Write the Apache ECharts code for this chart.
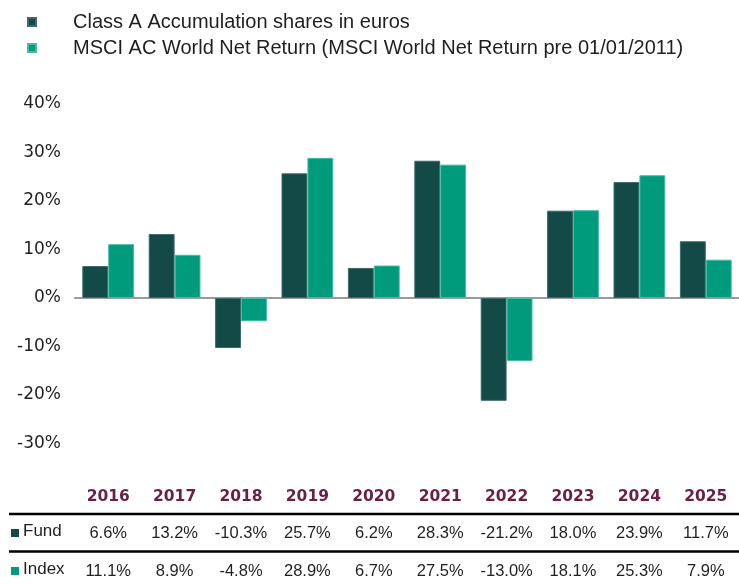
<!DOCTYPE html>
<html>
<head>
<meta charset="utf-8">
<script src="https://cdn.jsdelivr.net/npm/echarts@6/dist/echarts.min.js"></script>
<style>
  html, body { margin: 0; padding: 0; background: #fff; }
  #chart { width: 739px; height: 584px; }
</style>
</head>
<body>
<div id="chart"></div>
<script>
// Calendar-year returns, %
const years = ['2016', '2017', '2018', '2019', '2020', '2021', '2022', '2023', '2024', '2025'];
const fundReturns = [6.6, 13.2, -10.3, 25.7, 6.2, 28.3, -21.2, 18.0, 23.9, 11.7];
const indexReturns = [11.1, 8.9, -4.8, 28.9, 6.7, 27.5, -13.0, 18.1, 25.3, 7.9];
const fundName = 'Class A Accumulation shares in euros';
const indexName = 'MSCI AC World Net Return (MSCI World Net Return pre 01/01/2011)';
const rowLabels = ['Fund', 'Index'];

const FUND_COLOR = '#134a47';
const INDEX_COLOR = '#009b7d';
const YEAR_COLOR = '#6b1f45';
const TEXT_COLOR = '#1f1f1f';
const SANS = '"Liberation Sans", Arial, sans-serif';
const WIDE = '"DejaVu Sans", "Noto Sans", sans-serif';

const pct = v => v.toFixed(1) + '%';

// Extra bottom axes that form the table rows under the chart
function tableAxis(offset, formatter, style) {
  return {
    type: 'category',
    data: years,
    position: 'bottom',
    offset: offset,
    axisLine: { show: false },
    axisTick: { show: false },
    axisLabel: Object.assign({ margin: 0, formatter: formatter, interval: 0 }, style),
    z: 10
  };
}

const chart = echarts.init(document.getElementById('chart'));
chart.setOption({
  animation: false,
  backgroundColor: '#ffffff',
  legend: {
    orient: 'vertical',
    left: 22,
    top: 7,
    itemWidth: 8,
    itemHeight: 8,
    itemGap: 6,
    icon: 'rect',
    textStyle: { fontFamily: SANS, fontSize: 20, color: TEXT_COLOR, padding: [0, 0, 0, 32] },
    data: [fundName, indexName]
  },
  grid: { left: 75, right: -6, top: 104, bottom: 140.5, containLabel: false },
  xAxis: [
    {
      type: 'category',
      data: years,
      axisLine: { onZero: true, lineStyle: { color: '#9a9a9a', width: 2 } },
      axisTick: { show: false },
      axisLabel: { show: false }
    },
    tableAxis(45, (v) => v, { fontFamily: WIDE, fontSize: 15.5, fontWeight: 'bold', color: YEAR_COLOR }),
    tableAxis(81, (v, i) => pct(fundReturns[i]), { fontFamily: SANS, fontSize: 16.5, color: TEXT_COLOR }),
    tableAxis(119, (v, i) => pct(indexReturns[i]), { fontFamily: SANS, fontSize: 16.5, color: TEXT_COLOR })
  ],
  yAxis: {
    type: 'value',
    min: -30,
    max: 40,
    interval: 10,
    axisLine: { show: false },
    axisTick: { show: false },
    splitLine: { show: false },
    axisLabel: {
      margin: 14,
      fontFamily: WIDE,
      fontSize: 17,
      color: TEXT_COLOR,
      formatter: v => v + '%'
    }
  },
  series: [
    {
      name: fundName,
      type: 'bar',
      data: fundReturns,
      barGap: '0%',
      barCategoryGap: '22%',
      itemStyle: { color: FUND_COLOR, borderColor: '#3c6b68', borderWidth: 1 }
    },
    {
      name: indexName,
      type: 'bar',
      data: indexReturns,
      itemStyle: { color: INDEX_COLOR, borderColor: '#45bba3', borderWidth: 1 }
    }
  ],
  graphic: [
    { type: 'line', shape: { x1: 9, y1: 514, x2: 739, y2: 514 }, style: { stroke: '#000', lineWidth: 2.5 } },
    { type: 'line', shape: { x1: 9, y1: 551.5, x2: 739, y2: 551.5 }, style: { stroke: '#000', lineWidth: 2.5 } },
    { type: 'rect', shape: { x: 11, y: 529, width: 8, height: 8 }, style: { fill: FUND_COLOR } },
    { type: 'text', left: 23, top: 523, style: { text: rowLabels[0], font: '17px ' + SANS, fill: TEXT_COLOR } },
    { type: 'rect', shape: { x: 11, y: 567, width: 8, height: 8 }, style: { fill: INDEX_COLOR } },
    { type: 'text', left: 23, top: 561, style: { text: rowLabels[1], font: '17px ' + SANS, fill: TEXT_COLOR } }
  ]
});
</script>
</body>
</html>
